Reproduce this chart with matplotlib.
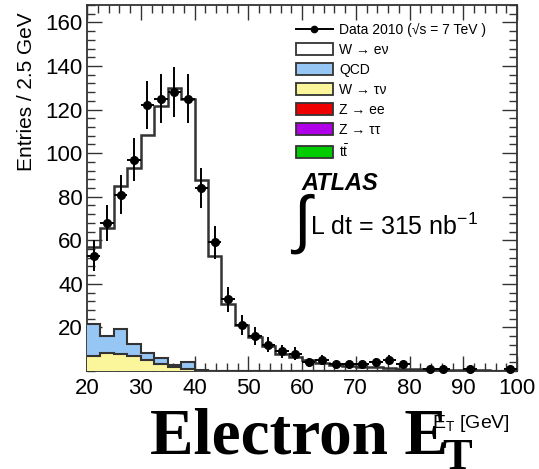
import numpy as np
import matplotlib
matplotlib.use("Agg")
import matplotlib.pyplot as plt
from matplotlib.patches import Patch
from matplotlib.lines import Line2D
from matplotlib.ticker import MultipleLocator

plt.rcParams['font.family'] = ['Liberation Sans', 'DejaVu Sans']
plt.rcParams['mathtext.fontset'] = 'custom'
plt.rcParams['mathtext.rm'] = 'Liberation Sans'

# Electron E_T spectrum, 2.5 GeV bins from 20 to 100 GeV
bin_edges = [20.0, 22.5, 25.0, 27.5, 30.0, 32.5, 35.0, 37.5, 40.0, 42.5, 45.0,
             47.5, 50.0, 52.5, 55.0, 57.5, 60.0, 62.5, 65.0, 67.5, 70.0, 72.5,
             75.0, 77.5, 80.0, 82.5, 85.0, 87.5, 90.0, 92.5, 95.0, 97.5, 100.0]

data_counts = [53, 68, 81, 97, 122, 125, 128, 125, 84, 59, 33, 21, 16, 12, 9, 8,
               4, 5, 3, 3, 3, 4, 5, 3, 0, 1, 1, 0, 1, 0, 0, 1]

w_tau_nu = [7.0, 8.3, 7.9, 7.0, 5.0, 3.2, 1.7, 0.8, 0.2, 0, 0, 0, 0, 0, 0, 0,
            0, 0, 0, 0, 0, 0, 0, 0, 0, 0, 0, 0, 0, 0, 0, 0]
qcd = [14.4, 7.7, 11.4, 5.2, 3.1, 2.6, 1.1, 3.2, 0.1, 0, 0, 0, 0, 0, 0, 0,
       0, 0, 0, 0, 0, 0, 0, 0, 0, 0, 0, 0, 0, 0, 0, 0]
w_e_nu = [35.5, 49.5, 65.5, 81.0, 100.0, 116.0, 127.0, 121.0, 87.5, 52.8, 30.9,
          20.9, 15.4, 11.4, 7.9, 6.4, 4.9, 3.9, 2.9, 2.4, 1.9, 1.7, 1.4, 1.1,
          0.9, 0.7, 0.5, 0.4, 0.3, 0.25, 0.2, 0.15]

x_ticks = [20, 30, 40, 50, 60, 70, 80, 90, 100]
y_ticks = [20, 40, 60, 80, 100, 120, 140, 160]

edges = np.array(bin_edges)
centers = 0.5 * (edges[:-1] + edges[1:])
half_w = 0.5 * np.diff(edges)
data = np.array(data_counts, dtype=float)
tau = np.array(w_tau_nu)
bkg = tau + np.array(qcd)
total = bkg + np.array(w_e_nu)

W, H = 539, 469
fig = plt.figure(figsize=(W / 100, H / 100), dpi=100)
ax = fig.add_axes([87 / W, 1 - 371 / H, 430 / W, 366 / H])

edge_col = '#333333'
c_qcd = '#96c6f4'
c_tau = '#fbf59c'
c_zee = '#ee0000'
c_ztt = '#b000e8'
c_tt = '#00cc00'

# stacked simulation
ax.stairs(total, edges, baseline=0, fill=True, facecolor='white', zorder=1)
ax.stairs(total, edges, baseline=None, color=edge_col, lw=1.8, zorder=2)
ax.stairs(bkg, edges, baseline=0, fill=True, facecolor=c_qcd, zorder=3)
ax.stairs(bkg, edges, baseline=None, color=edge_col, lw=1.5, zorder=4)
ax.stairs(tau, edges, baseline=0, fill=True, facecolor=c_tau, zorder=5)
ax.stairs(tau, edges, baseline=None, color=edge_col, lw=1.5, zorder=6)

# data points with Poisson errors, empty bins not shown
m = data > 0
ax.errorbar(centers[m], data[m], yerr=np.sqrt(data[m]), xerr=half_w[m],
            fmt='o', color='black', ms=5.5, lw=1.4, capsize=0, zorder=8,
            clip_on=False)

ax.set_xlim(20, 100)
ax.set_ylim(0, 168)
ax.set_xticks(x_ticks)
ax.set_yticks(y_ticks)
ax.xaxis.set_minor_locator(MultipleLocator(2))
ax.yaxis.set_minor_locator(MultipleLocator(4))
ax.tick_params(which='both', direction='in', top=True, right=True,
               color=edge_col, width=1.0)
ax.tick_params(which='major', length=11, labelsize=16, pad=3)
ax.tick_params(which='minor', length=6)
ax.tick_params(axis='x', which='major', pad=5)
for s in ax.spines.values():
    s.set_color(edge_col)
    s.set_linewidth(1.3)

fig.text(27 / W, 1 - 12 / H, 'Entries / 2.5 GeV', rotation=90, ha='center',
         va='top', fontsize=15)

# legend
handles = [
    Line2D([], [], color='black', lw=1.4, marker='o', ms=4.5),
    Patch(facecolor='white', edgecolor=edge_col, lw=1.3),
    Patch(facecolor=c_qcd, edgecolor=edge_col, lw=1.3),
    Patch(facecolor=c_tau, edgecolor=edge_col, lw=1.3),
    Patch(facecolor=c_zee, edgecolor=edge_col, lw=1.3),
    Patch(facecolor=c_ztt, edgecolor=edge_col, lw=1.3),
    Patch(facecolor=c_tt, edgecolor=edge_col, lw=1.3),
]
labels = ['Data 2010 (√s = 7 TeV )', 'W → eν', 'QCD', 'W → τν', 'Z → ee',
          'Z → ττ', r'$\mathregular{t\bar{t}}$']
ax.legend(handles, labels, loc='upper left',
          bbox_to_anchor=(296 / W, 1 - 23 / H), bbox_transform=fig.transFigure,
          frameon=False, fontsize=10, handlelength=2.66, handleheight=1.0,
          labelspacing=0.43, handletextpad=0.45, borderpad=0, borderaxespad=0)

fig.text(301 / W, 1 - 183 / H, 'ATLAS', fontsize=17, fontweight='bold',
         fontstyle='italic', ha='left', va='center')
fig.text(290 / W, 1 - 224 / H, r'$\int$', fontsize=46, ha='left', va='center')
fig.text(310 / W, 1 - 227 / H, r'L dt = 315 nb$^{\mathregular{-1}}$',
         fontsize=18, ha='left', va='center')

# axis title and large caption
fig.text(510 / W, 1 - 423 / H, r'$\mathregular{E_T}$ [GeV]', fontsize=14,
         ha='right', va='center', zorder=1)
fig.text(150 / W, 1 - 453 / H, 'Electron E', family='Liberation Serif',
         fontweight='bold', fontsize=47, ha='left', va='baseline', zorder=5)
fig.text(442 / W, 1 - 469 / H, 'T', family='Liberation Serif',
         fontweight='bold', fontsize=32, ha='left', va='baseline', zorder=5)

fig.savefig('out.png', dpi=100)
